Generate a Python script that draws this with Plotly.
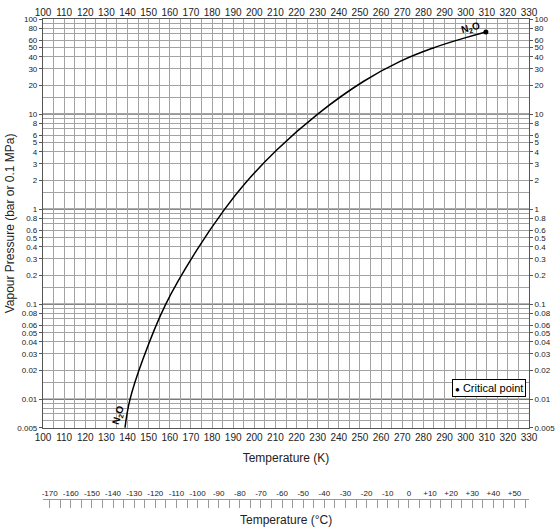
import math
import plotly.graph_objects as go

# --- values ---
temp_k = [138.8, 141.2, 147.2, 158.1, 172.7, 186.0, 195.6, 210.6,
          230.0, 251.6, 269.0, 284.7, 299.7, 309.6]
pressure_bar = [0.005, 0.01, 0.026, 0.1, 0.368, 1.0, 1.86, 4.19,
                10.0, 22.0, 35.8, 49.6, 63.3, 73.0]
crit_t = [309.6]
crit_p = [73.0]

k_ticks = list(range(100, 331, 10))
c_ticks = list(range(-170, 51, 10))
c_labels = [f"+{c}" if c > 0 else str(c) for c in c_ticks]
p_ticks = [0.005, 0.01, 0.02, 0.03, 0.04, 0.05, 0.06, 0.08,
           0.1, 0.2, 0.3, 0.4, 0.5, 0.6, 0.8,
           1, 2, 3, 4, 5, 6, 8,
           10, 20, 30, 40, 50, 60, 80, 100]
p_labels = [f"{v:g}" for v in p_ticks]
decades = [0.01, 0.1, 1, 10]

# light grid lines: 1.5, 2 ... 9 in each decade (decades drawn darker)
mant = [1.5, 2, 3, 4, 5, 6, 7, 8, 9]
p_grid = [round(m * d, 6) for d in [0.001, 0.01, 0.1, 1, 10] for m in mant]
p_grid = [v for v in p_grid if v >= 0.005]

K_RANGE = [100, 330]
C_RANGE = [K_RANGE[0] - 273.15, K_RANGE[1] - 273.15]
Y_RANGE = [math.log10(0.005), 2]
MAIN_DOM = [0.1953, 1]

FONT = "Liberation Sans, Arial, sans-serif"
GRID = "#a3a3a3"
DARK = "#3a3a3a"

fig = go.Figure()

fig.add_trace(go.Scatter(
    x=temp_k, y=pressure_bar, mode="lines",
    line=dict(color="black", width=1.5, shape="spline", smoothing=1.2),
    showlegend=False, hoverinfo="skip"))
fig.add_trace(go.Scatter(
    x=crit_t, y=crit_p, mode="markers",
    marker=dict(color="black", size=5), showlegend=False))

# helper traces so the mirrored / Celsius axes get drawn
fig.add_trace(go.Scatter(x=temp_k, y=pressure_bar, xaxis="x2", yaxis="y2",
                         mode="lines", opacity=0, line=dict(width=0),
                         showlegend=False, hoverinfo="skip"))
fig.add_trace(go.Scatter(x=[C_RANGE[0]], y=[0.5], xaxis="x3", yaxis="y3",
                         mode="markers", opacity=0,
                         showlegend=False, hoverinfo="skip"))

shapes = [dict(type="line", xref="x domain", yref="y", x0=0, x1=1,
               y0=d, y1=d, line=dict(color=DARK, width=1), layer="below")
          for d in decades]

fig.update_layout(
    width=557, height=532,
    margin=dict(l=43, r=28, t=19, b=5),
    paper_bgcolor="white", plot_bgcolor="white",
    font=dict(family=FONT, color="#222"),
    xaxis=dict(
        range=K_RANGE, tickvals=k_ticks, showgrid=True, gridcolor=GRID,
        gridwidth=1, showline=True, linecolor="#555", linewidth=1.2,
        mirror=True, ticks="", tickfont=dict(size=10), automargin=False,
        minor=dict(dtick=5, tick0=100, showgrid=True, gridcolor=GRID),
        title=dict(text="Temperature (K)", font=dict(size=12), standoff=11),
        zeroline=False),
    xaxis2=dict(
        range=K_RANGE, tickvals=k_ticks, overlaying="x", side="top",
        anchor="y2", showgrid=False, ticks="", tickfont=dict(size=10),
        zeroline=False, automargin=False),
    yaxis=dict(
        type="log", range=Y_RANGE, domain=MAIN_DOM,
        tickvals=p_ticks, ticktext=p_labels, showgrid=False,
        ticks="outside", ticklen=3, tickcolor="#555",
        tickfont=dict(size=8), automargin=False,
        minor=dict(tickvals=p_grid, showgrid=True, gridcolor=GRID,
                   ticks=""),
        showline=True, linecolor="#555", linewidth=1.2, mirror=True,
        title=dict(text="Vapour Pressure (bar or 0.1 MPa)",
                   font=dict(size=12), standoff=0)),
    yaxis2=dict(
        type="log", range=Y_RANGE, domain=MAIN_DOM, overlaying="y",
        side="right", anchor="x2", tickvals=p_ticks, ticktext=p_labels,
        showgrid=False, ticks="outside", ticklen=3, tickcolor="#555",
        tickfont=dict(size=8), automargin=False),
    xaxis3=dict(
        range=C_RANGE, anchor="y3", side="top", tickvals=c_ticks,
        ticktext=c_labels, ticks="inside", ticklen=8, tickcolor="#999",
        showline=True, linecolor="#999", linewidth=1.2, showgrid=False,
        zeroline=False, tickfont=dict(size=8), automargin=False,
        minor=dict(dtick=5, tick0=-170, ticks="inside", ticklen=8,
                   tickcolor="#999", showgrid=False)),
    yaxis3=dict(domain=[0, 0.0531], visible=False, range=[0, 1]),
    shapes=shapes,
    annotations=[
        dict(text="<b>N<sub>2</sub>O</b>", x=302.3, y=math.log10(81),
             xref="x", yref="y", showarrow=False, textangle=-15,
             font=dict(size=10, color="black")),
        dict(text="<b>N<sub>2</sub>O</b>", x=135.8, y=math.log10(0.0068),
             xref="x", yref="y", showarrow=False, textangle=-73,
             font=dict(size=10, color="black")),
        dict(text="<span style='font-size:8px'>●</span> Critical point",
             x=0.993, y=0.2553, xref="paper", yref="paper",
             xanchor="right", yanchor="bottom", showarrow=False,
             bordercolor="black", borderwidth=1, borderpad=2,
             bgcolor="white", font=dict(size=11, color="black")),
        dict(text="Temperature (°C)", x=0.5, y=0.0138, xref="paper",
             yref="paper", showarrow=False, yanchor="middle",
             font=dict(size=12)),
    ],
)

# the page's default body margin would push the 557x532 figure off-window
fig.write_html("out.html", config={"displayModeBar": False},
               post_script="document.body.style.margin='0';")
